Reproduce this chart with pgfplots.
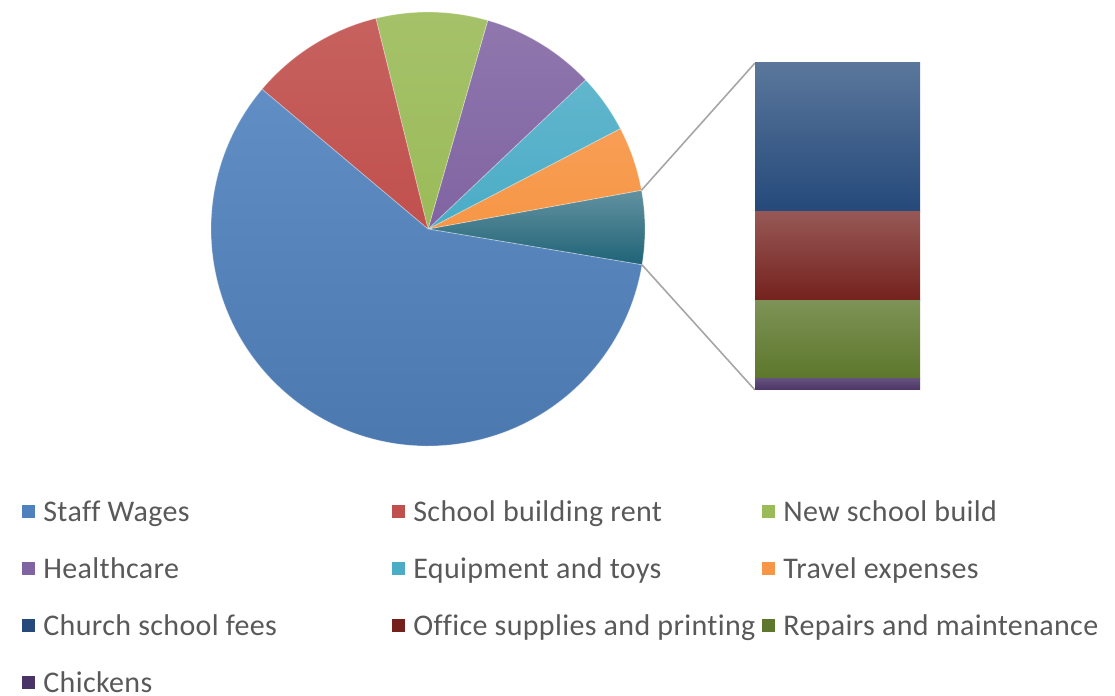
\documentclass[border=0pt]{standalone}
\usepackage{fontspec}
\setmainfont{Carlito}[Ligatures=NoCommon, LetterSpace=1.2]
\usepackage{pgfplots}
\pgfplotsset{compat=1.18}

% shares in percent of the whole budget
\def\vStaff{58.5}
\def\vRent{10.0}
\def\vBuild{8.3}
\def\vHealth{8.5}
\def\vEquip{4.4}
\def\vTravel{4.8}
\def\vChurch{2.5}
\def\vOffice{1.5}
\def\vRepairs{1.3}
\def\vChickens{0.2}
\pgfmathsetmacro\vOther{\vChurch+\vOffice+\vRepairs+\vChickens}

% slice boundaries, counter-clockwise from the "other" slice on the right
\pgfmathsetmacro\aA{0.4-1.8*\vOther}
\pgfmathsetmacro\aB{\aA+3.6*\vOther}
\pgfmathsetmacro\aC{\aB+3.6*\vTravel}
\pgfmathsetmacro\aD{\aC+3.6*\vEquip}
\pgfmathsetmacro\aE{\aD+3.6*\vHealth}
\pgfmathsetmacro\aF{\aE+3.6*\vBuild}
\pgfmathsetmacro\aG{\aF+3.6*\vRent}
\pgfmathsetmacro\aH{\aG+3.6*\vStaff}

\definecolor{cStaff}{HTML}{4F81BD}
\definecolor{cRent}{HTML}{C0504D}
\definecolor{cBuild}{HTML}{9BBB59}
\definecolor{cHealth}{HTML}{8064A2}
\definecolor{cEquip}{HTML}{4BACC6}
\definecolor{cTravel}{HTML}{F79646}
\definecolor{cOther}{HTML}{1F6377}
\definecolor{cChurch}{HTML}{24497A}
\definecolor{cOffice}{HTML}{74211D}
\definecolor{cRepairs}{HTML}{5D772C}
\definecolor{cChickens}{HTML}{4A3466}
\definecolor{cText}{HTML}{595959}
\definecolor{cLine}{HTML}{A6A6A6}

\def\R{108.5bp}
\newcommand\pieslice[4]{%
  \path[top color=#3, bottom color=#4, draw=white, draw opacity=0.35, line width=0.4bp]
    (axis cs:428,229) -- ++(#1:\R) arc[start angle=#1, end angle=#2, radius=\R] -- cycle;}
\newcommand\entry[2]{\addlegendimage{fill=#1}\addlegendentry{\makebox[170.5bp][l]{#2}}}

\begin{document}
\begin{tikzpicture}
\useasboundingbox (0,0) rectangle (557.5bp,348bp);
\begin{axis}[
  x=0.5bp, y=0.5bp,
  xmin=0, xmax=1115, ymin=0, ymax=696,
  y dir=reverse,
  hide axis, clip=false,
  legend columns=3,
  legend image code/.code={\fill[#1, draw=none] (0bp,-3.25bp) rectangle (6.5bp,3.25bp);},
  legend style={
    at={(axis cs:16,495)}, anchor=north west,
    draw=none, fill=none,
    font=\fontsize{15bp}{18bp}\selectfont, text=cText,
    cells={anchor=west},
    nodes={inner sep=0pt, text height=11bp, text depth=1bp},
    column sep=4bp, row sep=16.5bp,
  },
]
  \pieslice{\aA}{\aB}{cOther!70!white}{cOther}
  \pieslice{\aB}{\aC}{cTravel!92!white}{cTravel}
  \pieslice{\aC}{\aD}{cEquip!88!white}{cEquip}
  \pieslice{\aD}{\aE}{cHealth!88!white}{cHealth}
  \pieslice{\aE}{\aF}{cBuild!90!white}{cBuild}
  \pieslice{\aF}{\aG}{cRent!90!white}{cRent}
  \pieslice{\aG}{\aH}{cStaff!90!white}{cStaff!92!black}

  \draw[cLine, line width=0.8bp] (axis cs:428,229) ++(\aB:\R) -- (axis cs:755,63);
  \draw[cLine, line width=0.8bp] (axis cs:428,229) ++(\aA:\R) -- (axis cs:755,390);

  \entry{cStaff}{Staff Wages}
  \entry{cRent}{School building rent}
  \entry{cBuild}{New school build}
  \entry{cHealth}{Healthcare}
  \entry{cEquip}{Equipment and toys}
  \entry{cTravel}{Travel expenses}
  \entry{cChurch}{Church school fees}
  \entry{cOffice}{Office supplies and printing}
  \entry{cRepairs}{Repairs and maintenance}
  \entry{cChickens}{Chickens}
\end{axis}

\begin{axis}[
  at={(377.5bp,153bp)}, anchor=south west,
  width=82.5bp, height=163.5bp, scale only axis,
  hide axis, clip=false,
  xmin=0, xmax=1, ymin=0, ymax=\vOther,
  ybar stacked, bar width=82.5bp,
]
  \addplot[draw=none, top color=cChickens!85!white, middle color=cChickens, bottom color=cChickens] coordinates {(0.5,\vChickens)};
  \addplot[draw=none, top color=cRepairs!80!white, middle color=cRepairs, bottom color=cRepairs] coordinates {(0.5,\vRepairs)};
  \addplot[draw=none, top color=cOffice!75!white, middle color=cOffice, bottom color=cOffice] coordinates {(0.5,\vOffice)};
  \addplot[draw=none, top color=cChurch!75!white, middle color=cChurch, bottom color=cChurch] coordinates {(0.5,\vChurch)};
\end{axis}
\end{tikzpicture}
\end{document}
